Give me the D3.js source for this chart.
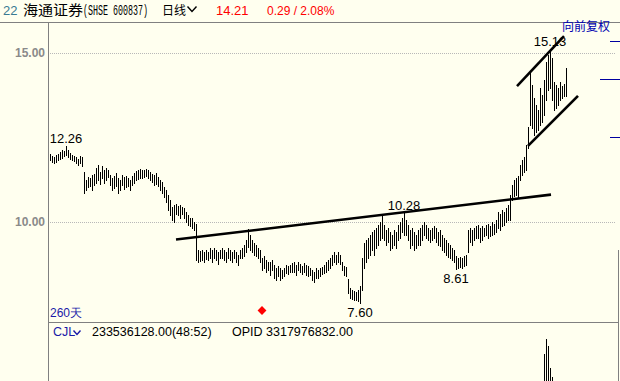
<!DOCTYPE html>
<html>
  <head>
    <meta charset="UTF-8" />
    <script src="https://d3js.org/d3.v7.min.js"></script>
    <title>海通证券 日线</title>
    <style>
      body { margin: 0; background: #ffffef; }
      svg { display: block; }
    </style>
  </head>
  <body>
    <div id="chart"></div>
    <script>
      // daily highs / lows, 259 bars, oldest first
      var highs = [
        12.01, 11.95, 11.92, 11.98, 12.01, 12.07, 12.13, 12.10, 12.26, 12.13,
        12.04, 11.98, 11.95, 11.92, 11.86, 11.95, 11.92, 11.48, 11.24, 11.33,
        11.30, 11.39, 11.42, 11.60, 11.69, 11.48, 11.66, 11.54, 11.60, 11.54,
        11.39, 11.30, 11.36, 11.45, 11.30, 11.24, 11.39, 11.33, 11.36, 11.30,
        11.24, 11.36, 11.45, 11.51, 11.54, 11.57, 11.54, 11.54, 11.57, 11.54,
        11.48, 11.42, 11.39, 11.45, 11.33, 11.24, 11.18, 11.04, 10.95, 10.80,
        10.65, 10.44, 10.50, 10.53, 10.47, 10.50, 10.44, 10.41, 10.30, 10.21,
        10.12, 10.12, 10.00, 9.94, 9.17, 9.14, 9.17, 9.11, 9.17, 9.11,
        9.23, 9.17, 9.23, 9.17, 9.11, 9.17, 9.23, 9.17, 9.11, 9.23,
        9.17, 9.11, 9.17, 9.11, 9.02, 9.17, 9.23, 9.32, 9.47, 9.79,
        9.62, 9.47, 9.38, 9.32, 9.23, 9.17, 8.93, 8.99, 8.88, 8.82,
        8.82, 8.88, 8.73, 8.64, 8.70, 8.64, 8.58, 8.64, 8.73, 8.70,
        8.73, 8.79, 8.82, 8.73, 8.82, 8.76, 8.70, 8.79, 8.73, 8.70,
        8.64, 8.58, 8.52, 8.64, 8.58, 8.64, 8.67, 8.73, 8.82, 8.88,
        8.93, 9.02, 9.11, 9.02, 9.11, 9.02, 8.82, 8.70, 8.67, 8.31,
        8.05, 7.99, 7.96, 7.93, 7.99, 8.11, 8.93, 9.38, 9.47, 9.53,
        9.62, 9.70, 9.76, 9.82, 9.91, 10.00, 10.24, 9.91, 9.76, 9.82,
        9.70, 9.62, 9.76, 9.70, 9.91, 10.00, 10.12, 10.28, 10.06, 9.91,
        9.76, 9.82, 9.70, 9.62, 9.76, 9.82, 9.91, 10.00, 9.91, 9.82,
        9.76, 9.82, 9.88, 9.82, 9.70, 9.76, 9.62, 9.53, 9.47, 9.38,
        9.32, 9.23, 9.17, 8.99, 8.93, 8.96, 8.93, 8.99, 9.02, 9.76,
        9.82, 9.76, 9.82, 9.88, 9.91, 9.82, 9.88, 9.82, 9.91, 9.94,
        9.88, 10.00, 9.94, 10.06, 10.30, 10.24, 10.36, 10.30, 10.41, 10.50,
        10.80, 11.10, 11.24, 11.30, 11.36, 11.69, 11.83, 11.92, 12.28, 12.81,
        14.44, 14.06, 13.67, 13.46, 13.31, 13.97, 13.76, 14.20, 14.73, 14.94,
        15.13, 14.85, 14.14, 14.06, 13.97, 14.14, 14.03, 14.08, 14.56
      ];
      var lows = [
        11.83, 11.78, 11.75, 11.78, 11.83, 11.86, 11.89, 11.95, 11.98, 11.92,
        11.86, 11.83, 11.80, 11.75, 11.69, 11.75, 11.66, 10.86, 10.95, 11.04,
        11.07, 10.95, 11.10, 11.15, 11.24, 11.12, 11.30, 11.15, 11.24, 11.33,
        11.10, 10.95, 11.01, 11.07, 10.86, 10.95, 11.10, 10.98, 11.04, 11.07,
        10.95, 11.10, 11.15, 11.24, 11.27, 11.30, 11.30, 11.33, 11.36, 11.30,
        11.24, 11.18, 11.10, 11.12, 11.07, 10.95, 10.86, 10.74, 10.59, 10.36,
        10.21, 10.06, 10.00, 10.24, 10.21, 10.12, 10.24, 10.12, 10.00, 9.91,
        9.88, 9.82, 9.76, 8.88, 8.82, 8.85, 8.88, 8.82, 8.90, 8.88,
        8.93, 8.82, 8.93, 8.88, 8.76, 8.93, 8.93, 8.88, 8.82, 8.93,
        8.88, 8.82, 8.93, 8.82, 8.73, 8.93, 8.93, 8.99, 9.11, 9.26,
        9.17, 9.11, 9.02, 8.99, 8.93, 8.82, 8.58, 8.64, 8.52, 8.58,
        8.43, 8.58, 8.34, 8.28, 8.40, 8.28, 8.34, 8.40, 8.49, 8.46,
        8.52, 8.52, 8.52, 8.43, 8.58, 8.52, 8.46, 8.52, 8.43, 8.40,
        8.43, 8.28, 8.22, 8.34, 8.34, 8.40, 8.46, 8.49, 8.52, 8.58,
        8.64, 8.73, 8.82, 8.76, 8.82, 8.76, 8.58, 8.43, 8.40, 7.90,
        7.75, 7.72, 7.69, 7.69, 7.66, 7.60, 7.99, 8.64, 8.82, 8.93,
        9.02, 9.17, 9.02, 9.23, 9.32, 9.47, 9.53, 9.47, 9.32, 9.41,
        9.17, 9.23, 9.32, 9.23, 9.47, 9.53, 9.70, 9.62, 9.62, 9.47,
        9.23, 9.32, 9.17, 9.23, 9.32, 9.32, 9.47, 9.62, 9.53, 9.47,
        9.41, 9.47, 9.53, 9.41, 9.32, 9.29, 9.17, 9.11, 9.02, 8.96,
        8.93, 8.88, 8.82, 8.61, 8.64, 8.67, 8.64, 8.70, 8.73, 9.11,
        9.41, 9.32, 9.47, 9.53, 9.53, 9.41, 9.47, 9.59, 9.62, 9.53,
        9.59, 9.62, 9.64, 9.70, 9.82, 9.76, 9.88, 9.91, 10.00, 10.06,
        10.06, 10.65, 10.77, 10.80, 10.71, 11.24, 11.39, 11.48, 11.54, 12.19,
        12.87, 12.78, 12.58, 12.66, 12.72, 12.87, 12.96, 13.17, 13.61, 13.91,
        13.97, 13.61, 13.31, 13.37, 13.46, 13.61, 13.67, 13.73, 13.73
      ];

      // volume of the last bars (shares), from bar 240 on
      var volStart = 240;
      var volTail = [
        5.2e8, 4.6e8, 4.1e8, 3.8e8, 4.4e8, 6.1e8, 6.6e8, 12.3e8, 15.0e8, 13.7e8,
        9.7e8, 7.9e8, 5.8e8, 4.5e8, 3.9e8, 3.3e8, 2.9e8, 2.6e8, 233536128
      ];

      var lastClose = 14.21, prevClose = 13.92;
      var gridPrices = [10, 15];
      var rightTicks = [15.33, 12.51];

      // high / low labels: bar index and which end
      var extremes = [
        { i: 8, side: "high" },
        { i: 177, side: "high" },
        { i: 250, side: "high" },
        { i: 155, side: "low" },
        { i: 203, side: "low" }
      ];

      // drawn trend lines, [bar index, price] at both ends
      var trendLines = [
        [[63, 9.48], [250.5, 10.81]],
        [[233.5, 14.02], [257, 15.50]],
        [[239, 12.25], [264, 13.73]]
      ];

      var markerBars = [106];

      var width = 620, height = 381;
      var font = "'Liberation Sans', Arial, sans-serif";
      var cjk = "'Noto Sans CJK SC', sans-serif";

      var svg = d3.select("#chart")
        .append("svg")
        .attr("width", width)
        .attr("height", height)
        .style("background", "#ffffef");

      var x = d3.scaleLinear().domain([0, 258]).range([50, 566]);
      var y = d3.scaleLinear().domain([10, 15]).range([222, 53]);
      var yVol = d3.scaleLinear().domain([0, 1.5e9]).range([420, 339]);

      // frame lines
      var frame = svg.append("g")
        .attr("stroke", "#808080")
        .attr("shape-rendering", "crispEdges");
      frame.append("line").attr("x1", 0).attr("x2", width).attr("y1", 22.5).attr("y2", 22.5);
      frame.append("line").attr("x1", 48.5).attr("x2", 48.5).attr("y1", 22).attr("y2", height);
      frame.append("line").attr("x1", 48).attr("x2", 619).attr("y1", 322.5).attr("y2", 322.5);
      frame.append("line").attr("x1", 618.5).attr("x2", 618.5).attr("y1", 250).attr("y2", height);

      // dotted grid
      svg.append("g")
        .selectAll("line")
        .data(gridPrices)
        .enter()
        .append("line")
        .attr("x1", 50)
        .attr("x2", 616)
        .attr("y1", function(d) { return Math.round(y(d)) + 0.5; })
        .attr("y2", function(d) { return Math.round(y(d)) + 0.5; })
        .attr("stroke", "#b8b8b8")
        .attr("stroke-dasharray", "1,1");

      // left price axis
      var yAxis = svg.append("g")
        .attr("transform", "translate(48,0)")
        .call(d3.axisLeft(y).tickValues(gridPrices).tickFormat(d3.format(".2f")).tickSize(0).tickPadding(3));
      yAxis.select(".domain").remove();
      yAxis.selectAll("text")
        .attr("fill", "#8a8a8a")
        .style("font-family", font)
        .style("font-size", "12px")
        .style("font-weight", "bold");

      // right ticks
      var rt = svg.append("g").attr("stroke", "#0000a0").attr("shape-rendering", "crispEdges");
      rt.selectAll("line.s")
        .data(rightTicks)
        .enter()
        .append("line")
        .attr("x1", 610).attr("x2", 620)
        .attr("y1", function(d) { return y(d); })
        .attr("y2", function(d) { return y(d); });
      rt.append("line")
        .attr("x1", 600).attr("x2", 620)
        .attr("y1", y(lastClose)).attr("y2", y(lastClose));

      // price bars
      svg.append("g")
        .selectAll("line")
        .data(highs)
        .enter()
        .append("line")
        .attr("x1", function(d, i) { return x(i) + 0.5; })
        .attr("x2", function(d, i) { return x(i) + 0.5; })
        .attr("y1", function(d) { return y(d); })
        .attr("y2", function(d, i) { return y(lows[i]) + 1; })
        .attr("stroke", "#000")
        .attr("shape-rendering", "crispEdges");

      // trend lines
      svg.append("g")
        .selectAll("line")
        .data(trendLines)
        .enter()
        .append("line")
        .attr("x1", function(d) { return x(d[0][0]); })
        .attr("y1", function(d) { return y(d[0][1]); })
        .attr("x2", function(d) { return x(d[1][0]); })
        .attr("y2", function(d) { return y(d[1][1]); })
        .attr("stroke", "#000")
        .attr("stroke-width", 2.6);

      // high / low labels
      svg.append("g")
        .selectAll("text")
        .data(extremes)
        .enter()
        .append("text")
        .attr("x", function(d) { return x(d.i); })
        .attr("y", function(d) {
          return d.side == "high" ? y(highs[d.i]) - 3 : y(lows[d.i]) + 14;
        })
        .attr("text-anchor", "middle")
        .style("font-family", font)
        .style("font-size", "13px")
        .attr("fill", "#000")
        .text(function(d) {
          return (d.side == "high" ? highs[d.i] : lows[d.i]).toFixed(2);
        });

      // event marker
      svg.append("g")
        .selectAll("path")
        .data(markerBars)
        .enter()
        .append("path")
        .attr("d", d3.symbol().type(d3.symbolDiamond2).size(50))
        .attr("transform", function(d) { return "translate(" + x(d) + ",310.5)"; })
        .attr("fill", "#ff0000");

      svg.append("text")
        .attr("x", 50).attr("y", 317)
        .attr("fill", "#1a1aa8")
        .style("font-family", font)
        .style("font-size", "12px")
        .text("260天");

      // header
      var head = svg.append("g").style("font-size", "13px");
      head.append("text").attr("x", 3).attr("y", 15).attr("fill", "#3a7a92")
        .style("font-family", font).text("22");
      head.append("text").attr("x", 23).attr("y", 15).attr("fill", "#000")
        .style("font-family", cjk).style("font-size", "14px")
        .attr("textLength", 60).attr("lengthAdjust", "spacingAndGlyphs").text("海通证券");
      head.append("g")
        .attr("transform", "translate(83,15) scale(1,1.4)")
        .append("text").attr("x", 0).attr("y", 0).attr("fill", "#000")
        .style("font-family", "'Liberation Mono', monospace").style("font-size", "10px")
        .attr("textLength", 65).attr("lengthAdjust", "spacingAndGlyphs").text("(SHSE 600837)");
      head.append("text").attr("x", 162).attr("y", 15).attr("fill", "#000")
        .style("font-family", cjk).style("font-size", "12px").text("日线");
      head.append("path").attr("d", "M187.5,6.5 L192,11.5 L196.5,6.5")
        .attr("fill", "none").attr("stroke", "#000").attr("stroke-width", 1.4);
      head.append("text").attr("x", 216).attr("y", 15).attr("fill", "#ff0000")
        .style("font-family", font).text(lastClose.toFixed(2));
      var chg = lastClose - prevClose;
      head.append("text").attr("x", 267).attr("y", 15).attr("fill", "#ff0000")
        .style("font-family", font).style("font-size", "12px")
        .text(chg.toFixed(2) + " / " + (chg / prevClose * 100).toFixed(2) + "%");

      svg.append("text").attr("x", 562).attr("y", 31).attr("fill", "#0000b0")
        .style("font-family", cjk).style("font-size", "12px").text("向前复权");

      // volume panel
      svg.append("defs").append("clipPath").attr("id", "volClip")
        .append("rect").attr("x", 49).attr("y", 323).attr("width", 570).attr("height", 60);

      svg.append("g")
        .attr("clip-path", "url(#volClip)")
        .selectAll("line")
        .data(volTail)
        .enter()
        .append("line")
        .attr("x1", function(d, k) { return x(volStart + k) + 0.5; })
        .attr("x2", function(d, k) { return x(volStart + k) + 0.5; })
        .attr("y1", function(d) { return yVol(d); })
        .attr("y2", yVol(0))
        .attr("stroke", "#000")
        .attr("shape-rendering", "crispEdges");

      var vt = svg.append("g").style("font-family", font).style("font-size", "12.5px");
      vt.append("text").attr("x", 53).attr("y", 336).attr("fill", "#1a1aa8").text("CJL");
      vt.append("path").attr("d", "M73.5,330.5 L77,334.5 L80.5,330.5")
        .attr("fill", "none").attr("stroke", "#1a1aa8").attr("stroke-width", 1.4);
      vt.append("text").attr("x", 92).attr("y", 336).attr("fill", "#000")
        .text(d3.format(".2f")(volTail[volTail.length - 1]) + "(48:52)");
      vt.append("text").attr("x", 232).attr("y", 336).attr("fill", "#000")
        .text("OPID 3317976832.00");
    </script>
  </body>
</html>
